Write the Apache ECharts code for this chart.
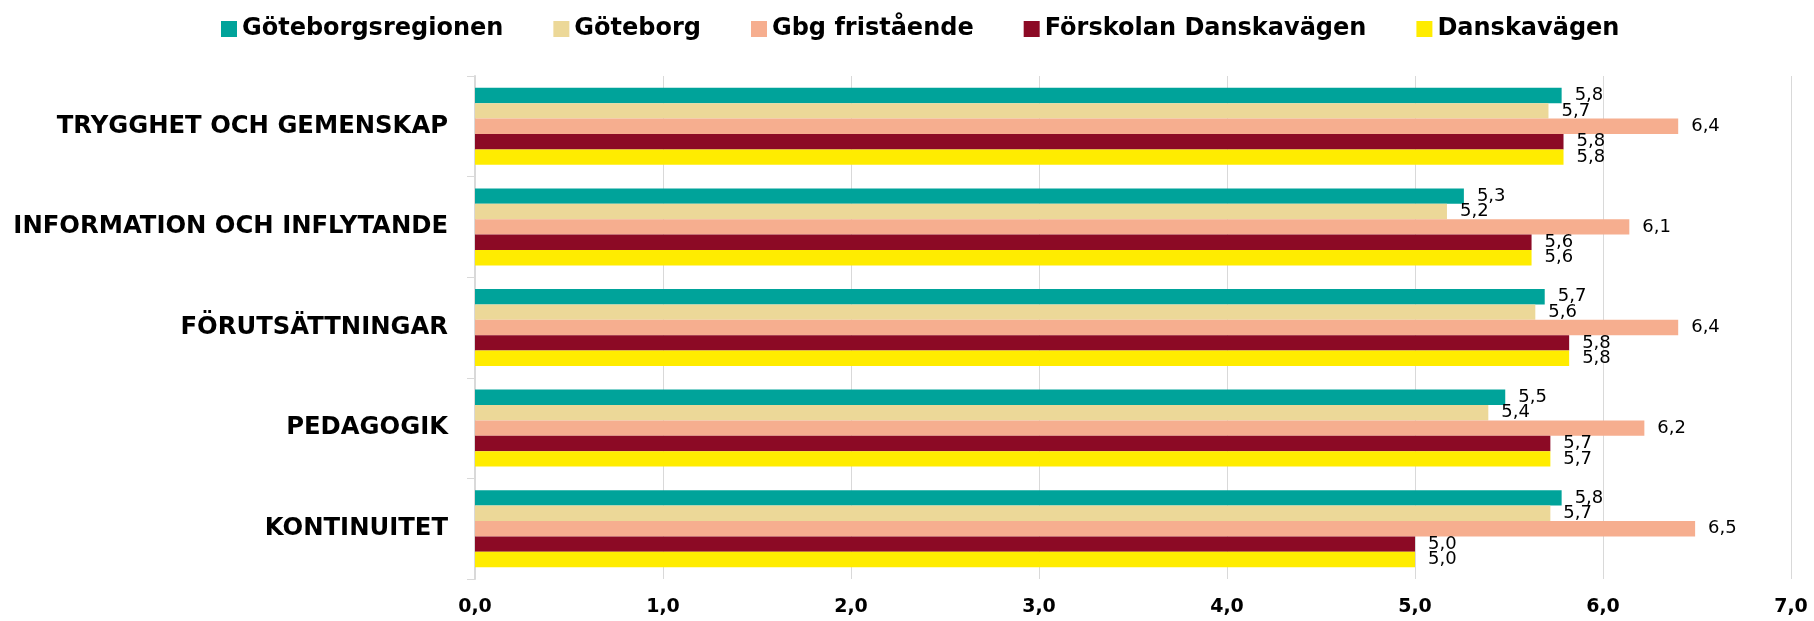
<!DOCTYPE html>
<html>
<head>
<meta charset="utf-8">
<script src="https://cdn.jsdelivr.net/npm/echarts@6/dist/echarts.min.js"></script>
<style>
html,body{margin:0;padding:0;background:#fff;}
#chart{width:1814px;height:621px;}
</style>
</head>
<body>
<div id="chart"></div>
<script>
var categories = ['TRYGGHET OCH GEMENSKAP', 'INFORMATION OCH INFLYTANDE', 'FÖRUTSÄTTNINGAR', 'PEDAGOGIK', 'KONTINUITET'];
var seriesNames = ['Göteborgsregionen', 'Göteborg', 'Gbg fristående', 'Förskolan Danskavägen', 'Danskavägen'];
var goteborgsregionen = [5.78, 5.26, 5.69, 5.48, 5.78];
var goteborg = [5.71, 5.17, 5.64, 5.39, 5.72];
var gbgFristaende = [6.40, 6.14, 6.40, 6.22, 6.49];
var forskolanDanskavagen = [5.79, 5.62, 5.82, 5.72, 5.00];
var danskavagen = [5.79, 5.62, 5.82, 5.72, 5.00];
var xTicks = [0, 1, 2, 3, 4, 5, 6, 7];

var colors = ['#00A39A', '#ECD898', '#F6AE8F', '#8C0A25', '#FFEC00'];
var values = [goteborgsregionen, goteborg, gbgFristaende, forskolanDanskavagen, danskavagen];
var FONT = 'DejaVu Sans';

function fmt(v) { return v.toFixed(1).replace('.', ','); }

var chart = echarts.init(document.getElementById('chart'), null, {renderer: 'canvas'});
var option = {
  animation: false,
  backgroundColor: '#ffffff',
  color: colors,
  legend: {
    data: seriesNames,
    top: 12,
    left: 216,
    itemWidth: 16,
    itemHeight: 16,
    itemGap: 50,
    icon: 'rect',
    textStyle: {fontFamily: FONT, fontWeight: 'bold', fontSize: 24, color: '#000'}
  },
  grid: {left: 475, right: 23, top: 76, bottom: 42, containLabel: false},
  xAxis: {
    type: 'value',
    min: xTicks[0],
    max: xTicks[xTicks.length - 1],
    interval: 1,
    axisLine: {show: false},
    axisTick: {show: false},
    splitLine: {show: true, lineStyle: {color: '#D9D9D9', width: 1}},
    axisLabel: {
      formatter: function (v) { return fmt(v); },
      fontFamily: FONT, fontWeight: 'bold', fontSize: 19, color: '#000', margin: 19
    }
  },
  yAxis: {
    type: 'category',
    data: categories,
    inverse: true,
    axisLine: {show: true, lineStyle: {color: '#D9D9D9', width: 2}},
    axisTick: {show: true, length: 8, lineStyle: {color: '#D9D9D9', width: 1}},
    axisLabel: {fontFamily: FONT, fontWeight: 'bold', fontSize: 24.3, color: '#000', margin: 27}
  },
  series: seriesNames.map(function (name, i) {
    return {
      name: name,
      type: 'bar',
      data: values[i],
      barGap: '0%',
      barCategoryGap: '23.5%',
      itemStyle: {color: colors[i]},
      label: {
        show: true,
        position: 'right',
        distance: 13,
        formatter: function (p) { return fmt(p.value); },
        fontFamily: FONT, fontSize: 18, color: '#000'
      }
    };
  })
};
chart.setOption(option);
</script>
</body>
</html>
